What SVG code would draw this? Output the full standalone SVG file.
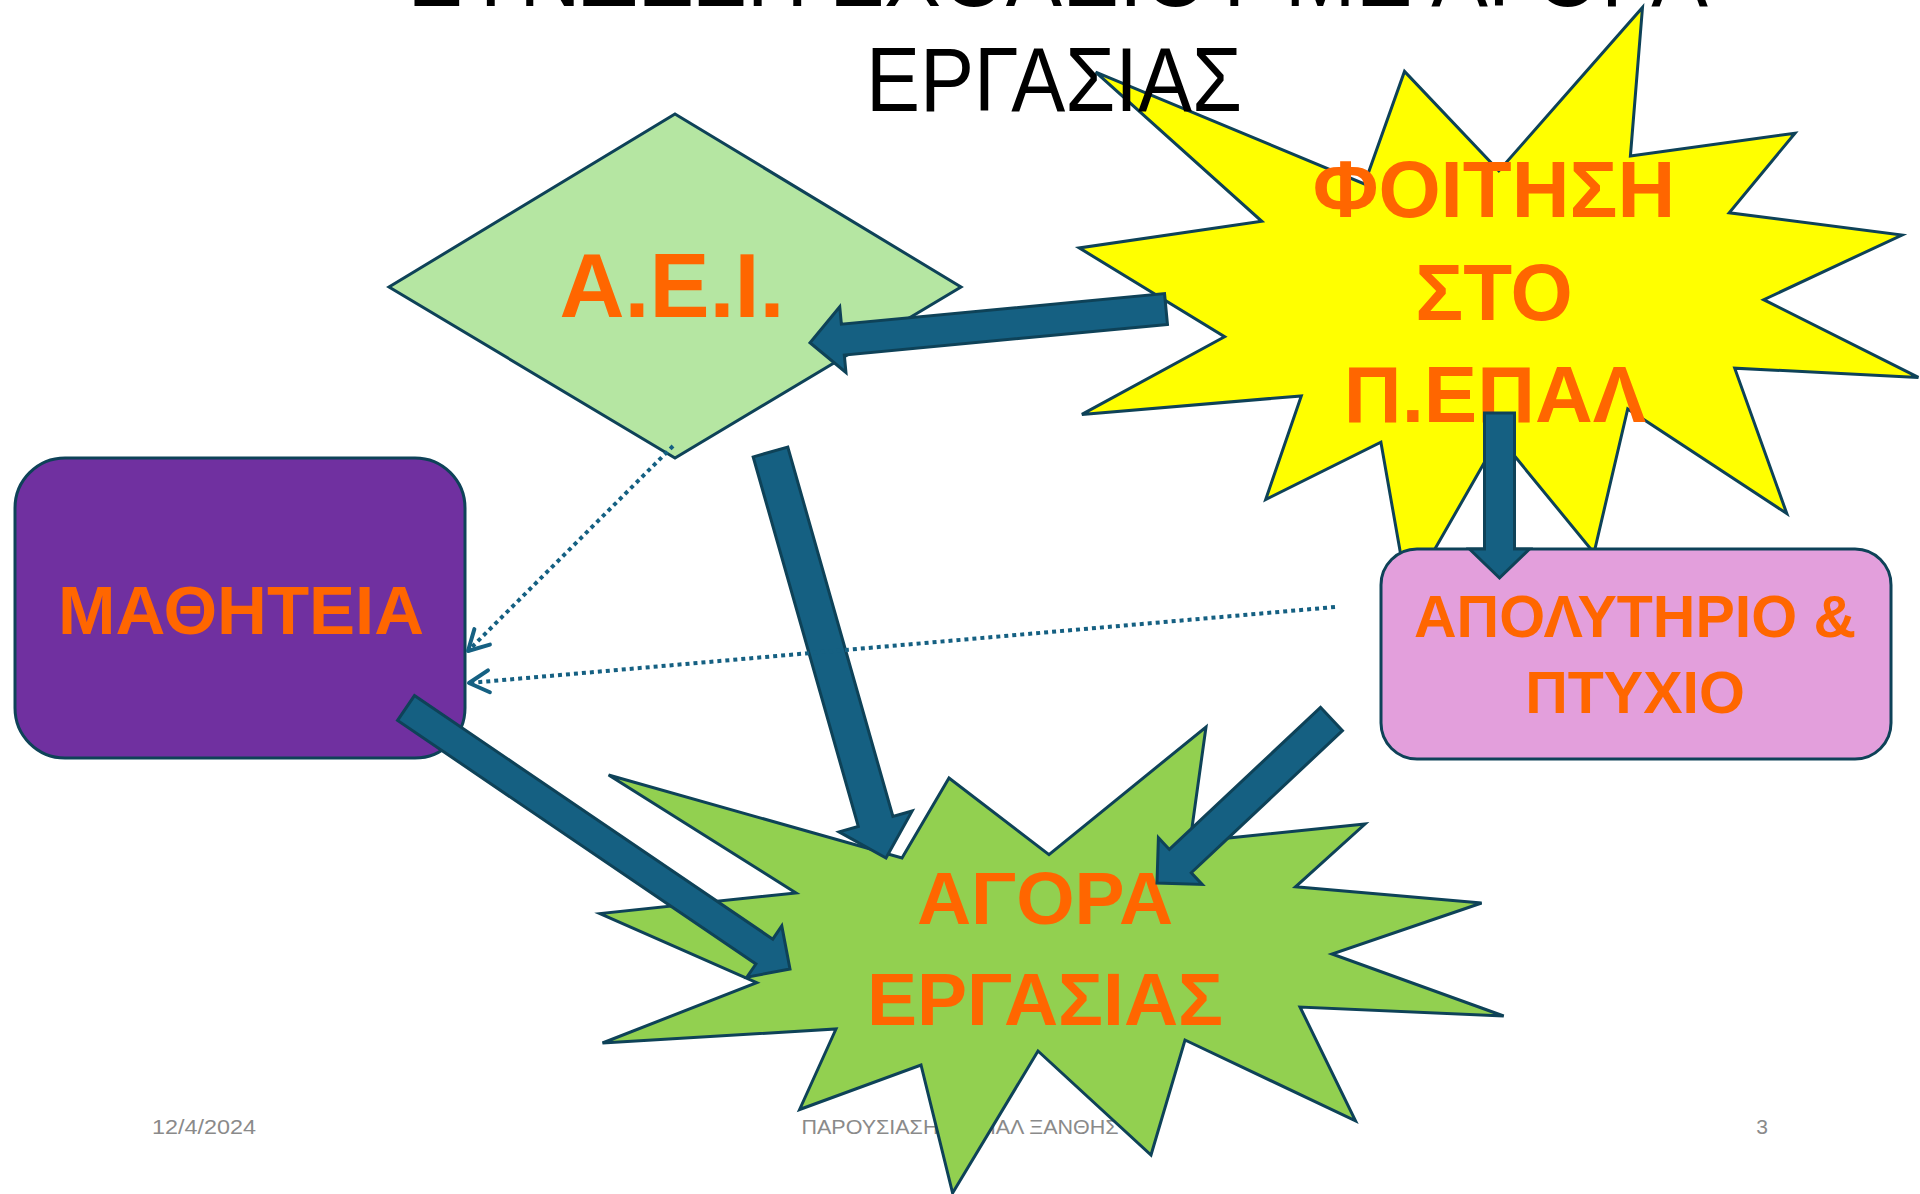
<svg xmlns="http://www.w3.org/2000/svg" width="1920" height="1194" viewBox="0 0 1920 1194">
<defs>
<style>
.shape{stroke:#0E4258;stroke-width:3;stroke-linejoin:miter}
.lbl{font-family:"Liberation Sans",Arial,sans-serif;font-weight:bold;fill:#FF6600;text-anchor:middle}
.title{font-family:"Liberation Sans",Arial,sans-serif;fill:#000000;text-anchor:middle;font-size:90px}
.foot{font-family:"Liberation Sans",Arial,sans-serif;fill:#8A8A8A;font-size:21px}
.arrow{fill:#156082;stroke:#0E4258;stroke-width:3;stroke-linejoin:miter}
.dot{fill:none;stroke:#156082;stroke-width:4;stroke-dasharray:4 4}
</style>
<marker id="openHead" viewBox="-26 -14 30 28" refX="0" refY="0" markerWidth="30" markerHeight="28" markerUnits="userSpaceOnUse" orient="auto">
<path d="M -20 -11 L 0 0 L -20 11" fill="none" stroke="#156082" stroke-width="4" stroke-linecap="round" stroke-linejoin="round"/>
</marker>
</defs>
<rect x="0" y="0" width="1920" height="1194" fill="#FFFFFF"/>

<g id="footer">
<text class="foot" x="152" y="1134" textLength="104" lengthAdjust="spacingAndGlyphs">12/4/2024</text>
<text class="foot" x="960" y="1134" text-anchor="middle" textLength="317" lengthAdjust="spacingAndGlyphs">ΠΑΡΟΥΣΙΑΣΗ Π.ΕΠΑΛ ΞΑΝΘΗΣ</text>
<text class="foot" x="1762" y="1134" text-anchor="middle">3</text>
</g>

<g id="node-foitisi">
<polygon class="shape" fill="#FFFF00" points="1095.7,72.2 1364.4,183.9 1404.5,71.4 1498.8,170.9 1642.5,7.4 1630.4,156.1 1795,133.2 1729.2,212.8 1902,235 1763.7,299.7 1918.4,377.4 1734.7,368.2 1786.8,513.6 1627.7,408.9 1594,553 1499,437 1408,596 1380.9,442.2 1265.7,499.5 1301.3,395.9 1081.9,414.4 1224.6,336.7 1079.2,247.9 1261.8,221.3"/>
<text class="lbl" font-size="80" x="1494" y="217">ΦΟΙΤΗΣΗ</text>
<text class="lbl" font-size="80" x="1494" y="320">ΣΤΟ</text>
<text class="lbl" font-size="80" x="1495" y="422">Π.ΕΠΑΛ</text>
</g>

<g id="node-aei">
<polygon class="shape" fill="#B5E6A2" points="675,114 961,287 675,458 389,287"/>
<text class="lbl" font-size="90" x="672" y="317">Α.Ε.Ι.</text>
</g>

<g id="node-mathiteia">
<rect class="shape" fill="#7030A0" x="15" y="458" width="450" height="300" rx="50" ry="50"/>
<text class="lbl" font-size="69" x="241" y="634">ΜΑΘΗΤΕΙΑ</text>
</g>

<g id="node-apolytirio">
<rect class="shape" fill="#E39FDC" x="1381" y="549" width="510" height="210" rx="36" ry="36"/>
<text class="lbl" font-size="59" x="1635" y="637">ΑΠΟΛΥΤΗΡΙΟ &amp;</text>
<text class="lbl" font-size="59" x="1635" y="713">ΠΤΥΧΙΟ</text>
</g>

<g id="node-agora">
<polygon class="shape" fill="#92D050" points="608.6,775 902,858 949,778 1049,854.6 1206,727 1190,842 1365,824 1295.5,886.8 1481.6,903 1332,954 1503.7,1016 1300,1007 1355.5,1120.8 1185,1040 1151,1155 1038,1051 952.6,1193 921,1065 799.6,1109.5 836,1029 602.5,1043 756.7,982.6 600,913.6 796,893"/>
<text class="lbl" font-size="75" x="1045" y="924">ΑΓΟΡΑ</text>
<text class="lbl" font-size="75" x="1045" y="1025">ΕΡΓΑΣΙΑΣ</text>
</g>

<g id="title">
<text class="title" x="1059" y="6" textLength="1298" lengthAdjust="spacingAndGlyphs">ΣΥΝΔΕΣΗ ΣΧΟΛΕΙΟΥ ΜΕ ΑΓΟΡΑ</text>
<text class="title" x="1054" y="111" textLength="376" lengthAdjust="spacingAndGlyphs">ΕΡΓΑΣΙΑΣ</text>
</g>

<g id="connectors">
<polygon class="arrow" points="1167.46,324.43 844.31,355.03 845.96,372.45 810,342.7 839.74,306.75 841.39,324.17 1164.54,293.57"/>
<polygon class="arrow" points="787.81,447.07 892.91,816.52 912.15,811.05 886,858 839.05,831.85 858.29,826.38 753.19,456.93"/>
<polygon class="arrow" points="414.44,695.59 772.78,939.15 781.78,925.9 790,969 746.9,977.22 755.9,963.97 397.56,720.41"/>
<polygon class="arrow" points="1342.46,730.66 1191.28,872.75 1202.23,884.41 1157,883 1158.41,837.77 1169.36,849.43 1320.54,707.34"/>
<polygon class="arrow" points="1484.5,413 1514.5,413 1514.5,549 1529.5,549 1499.5,578 1469.5,549 1484.5,549"/>
<line class="dot" x1="673" y1="446" x2="468" y2="651" marker-end="url(#openHead)"/>
<line class="dot" x1="1335" y1="607" x2="469" y2="683" marker-end="url(#openHead)"/>
</g>
</svg>
